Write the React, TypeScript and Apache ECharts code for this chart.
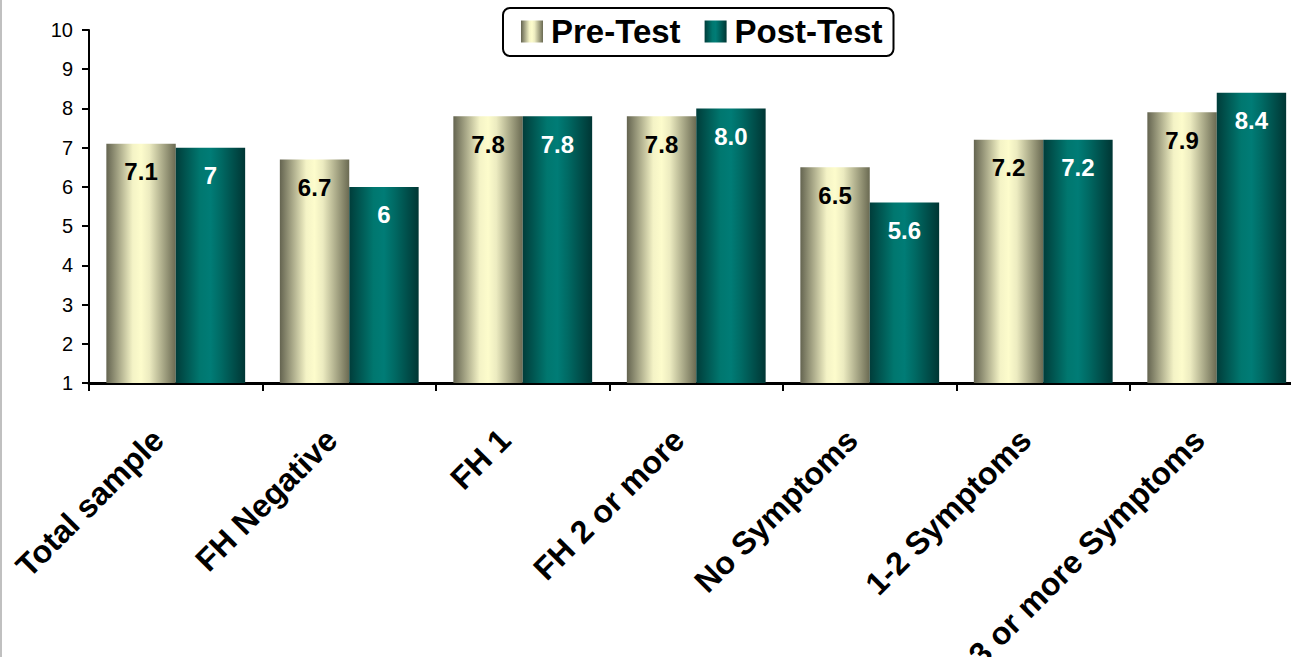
import React, { useEffect, useRef } from "react";
import * as echarts from "echarts";

const categories = [
  "Total sample",
  "FH Negative",
  "FH 1",
  "FH 2 or more",
  "No Symptoms",
  "1-2 Symptoms",
  "3 or more Symptoms",
];
const preTest = [7.1, 6.7, 7.8, 7.8, 6.5, 7.2, 7.9];
const postTest = [7, 6, 7.8, 8.0, 5.6, 7.2, 8.4];
const preLabels = ["7.1", "6.7", "7.8", "7.8", "6.5", "7.2", "7.9"];
const postLabels = ["7", "6", "7.8", "8.0", "5.6", "7.2", "8.4"];
const yTicks = { min: 1, max: 10, interval: 1 };

const FONT = '"Liberation Sans", Arial, Helvetica, sans-serif';

export default function App() {
  const ref = useRef<HTMLDivElement>(null);
  useEffect(() => {
    document.body.style.margin = "0";
    const chart = echarts.init(ref.current!, null, { renderer: "svg" });
    const preGrad = new echarts.graphic.LinearGradient(0, 0, 1, 0, [
      { offset: 0, color: "#646450" },
      { offset: 0.38, color: "#f4f3c6" },
      { offset: 0.5, color: "#fdfccc" },
      { offset: 0.62, color: "#ecebc0" },
      { offset: 1, color: "#6a6a52" },
    ]);
    const postGrad = new echarts.graphic.LinearGradient(0, 0, 1, 0, [
      { offset: 0, color: "#003d3a" },
      { offset: 0.35, color: "#00776f" },
      { offset: 0.5, color: "#007c76" },
      { offset: 0.65, color: "#006a64" },
      { offset: 1, color: "#003634" },
    ]);
    chart.setOption({
      animation: false,
      textStyle: { fontFamily: FONT },
      graphic: [
        {
          type: "line",
          shape: { x1: 1, y1: 0, x2: 1, y2: 657 },
          style: { stroke: "#c0c0c0", lineWidth: 2 },
        },
      ],
      legend: {
        left: 503,
        top: 8,
        padding: [7, 11, 8, 18],
        itemGap: 24,
        itemWidth: 22,
        itemHeight: 22,
        borderColor: "#000",
        borderWidth: 2,
        borderRadius: 7,
        icon: "rect",
        textStyle: {
          fontSize: 33,
          fontWeight: "bold",
          color: "#000",
          fontFamily: FONT,
          padding: [0, 0, 0, 3],
        },
        data: ["Pre-Test", "Post-Test"],
      },
      grid: {
        left: 89,
        top: 30,
        bottom: 274,
        right: -12.5,
        containLabel: false,
        outerBoundsMode: "none",
      },
      xAxis: {
        type: "category",
        data: categories,
        axisLine: { show: true, lineStyle: { color: "#000", width: 3 } },
        axisTick: { show: true, length: 8, lineStyle: { color: "#000", width: 2 } },
        axisLabel: {
          interval: 0,
          rotate: 45,
          margin: 34,
          fontSize: 32,
          fontWeight: "bold",
          color: "#000",
          fontFamily: FONT,
          padding: [0, 25, 0, 0],
        },
      },
      yAxis: {
        type: "value",
        min: yTicks.min,
        max: yTicks.max,
        interval: yTicks.interval,
        axisLine: { show: true, lineStyle: { color: "#000", width: 2 } },
        axisTick: { show: true, length: 7, lineStyle: { color: "#000", width: 2 } },
        splitLine: { show: false },
        axisLabel: { fontSize: 20, color: "#000", margin: 16, fontFamily: FONT },
      },
      series: [
        {
          name: "Pre-Test",
          type: "bar",
          data: preTest,
          barGap: "0%",
          barCategoryGap: "20%",
          itemStyle: { color: preGrad },
          label: {
            show: true,
            position: "insideTop",
            distance: 16,
            fontSize: 24,
            fontWeight: "bold",
            color: "#000",
            fontFamily: FONT,
            formatter: (p: any) => preLabels[p.dataIndex],
          },
        },
        {
          name: "Post-Test",
          type: "bar",
          data: postTest,
          barGap: "0%",
          barCategoryGap: "20%",
          itemStyle: { color: postGrad },
          label: {
            show: true,
            position: "insideTop",
            distance: 16,
            fontSize: 24,
            fontWeight: "bold",
            color: "#fff",
            fontFamily: FONT,
            formatter: (p: any) => postLabels[p.dataIndex],
          },
        },
      ],
    });
    return () => chart.dispose();
  }, []);
  return <div ref={ref} style={{ width: 1291, height: 657 }} />;
}
